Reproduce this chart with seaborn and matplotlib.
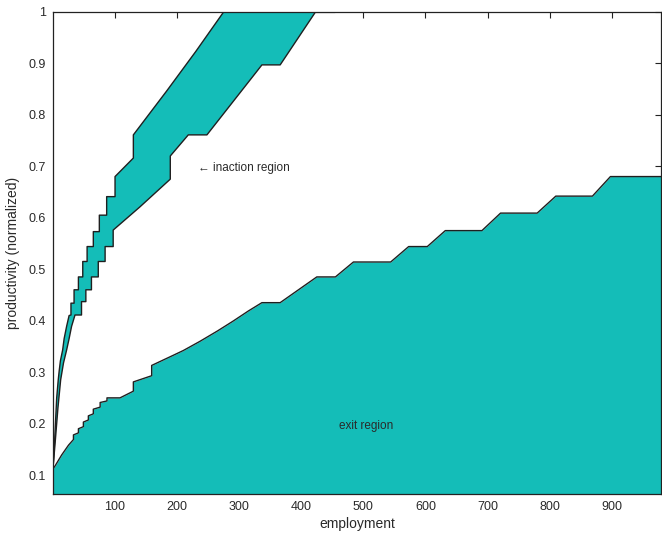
import numpy as np
import pandas as pd
import matplotlib
matplotlib.use("Agg")
import matplotlib.pyplot as plt
import seaborn as sns

# ---- data ----
exit_emp = [0, 3, 14, 25, 33, 33, 41, 41, 49, 49, 57, 57, 65, 65, 76, 76, 87, 87,
            108, 129.5, 129.5, 159, 159, 189, 210, 237, 265, 290, 315, 336.6, 366,
            425, 455, 484, 544, 573, 603, 632, 691, 721, 780, 810, 869, 898, 980]
exit_prod = [0.112, 0.117, 0.139, 0.158, 0.169, 0.178, 0.182, 0.190, 0.194, 0.203,
             0.207, 0.215, 0.219, 0.228, 0.232, 0.241, 0.244, 0.250, 0.250, 0.263,
             0.281, 0.293, 0.313, 0.330, 0.342, 0.360, 0.380, 0.399, 0.419, 0.435,
             0.435, 0.485, 0.485, 0.514, 0.514, 0.544, 0.544, 0.575, 0.575, 0.609,
             0.609, 0.642, 0.642, 0.680, 0.680]

band_left_emp = [0, 2, 4, 6, 8.5, 10, 12, 15.6, 18, 22, 26, 29, 29, 34, 34, 41, 41,
                 48, 48, 55, 55, 65, 65, 74.7, 74.7, 86.5, 86.5, 100, 100, 129.5,
                 129.5, 183, 230, 275]
band_left_prod = [0.112, 0.15, 0.2, 0.25, 0.285, 0.302, 0.322, 0.343, 0.365, 0.389,
                  0.41, 0.411, 0.434, 0.434, 0.46, 0.46, 0.485, 0.485, 0.515, 0.515,
                  0.544, 0.544, 0.573, 0.573, 0.605, 0.605, 0.641, 0.641, 0.68, 0.716,
                  0.761, 0.846, 0.923, 1.0]

band_right_emp = [0, 4, 8, 12.4, 17, 22, 26, 30, 35.5, 46, 46, 53, 53, 62, 62, 73,
                  73, 84, 84, 97, 97, 140, 189, 189, 218, 248, 336.6, 366, 423]
band_right_prod = [0.112, 0.17, 0.23, 0.285, 0.318, 0.343, 0.365, 0.389, 0.411,
                   0.411, 0.437, 0.437, 0.46, 0.46, 0.485, 0.485, 0.515, 0.515, 0.544,
                   0.544, 0.576, 0.621, 0.675, 0.72, 0.761, 0.761, 0.897, 0.897, 1.0]

top_edge_emp = [423, 455]
top_edge_prod = [1.0, 1.0]

x_ticks = [100, 200, 300, 400, 500, 600, 700, 800, 900]
y_ticks = [0.1, 0.2, 0.3, 0.4, 0.5, 0.6, 0.7, 0.8, 0.9, 1.0]
y_tick_labels = ["0.1", "0.2", "0.3", "0.4", "0.5", "0.6", "0.7", "0.8", "0.9", "1"]

# ---- styling ----
sns.set_style("white")
plt.rcParams["font.family"] = ["Liberation Sans", "DejaVu Sans"]
plt.rcParams["xtick.direction"] = "in"
plt.rcParams["ytick.direction"] = "in"

teal = "#14bdb8"
text_col = "#2a2a2a"
line_col = "#1f1f1f"

fig = plt.figure(figsize=(6.62, 5.40), dpi=100)
ax = fig.add_axes([0.080, 0.085, 0.919, 0.893])

xmin, xmax = 0, 980
ymin, ymax = 0.063, 1.0

# exit region
ax.fill_between(exit_emp, ymin, exit_prod, color=teal, linewidth=0, zorder=1)

# inaction band polygon
poly_x = np.concatenate([band_left_emp, band_right_emp[::-1]])
poly_y = np.concatenate([band_left_prod, band_right_prod[::-1]])
ax.fill(poly_x, poly_y, color=teal, linewidth=0, zorder=1)

# boundary lines
for xs, ys in [(exit_emp, exit_prod), (band_left_emp, band_left_prod),
               (band_right_emp, band_right_prod)]:
    df = pd.DataFrame({"x": xs, "y": ys})
    sns.lineplot(data=df, x="x", y="y", sort=False, estimator=None,
                 color=line_col, linewidth=1.0, ax=ax, zorder=3)
sns.lineplot(x=top_edge_emp, y=top_edge_prod, sort=False, estimator=None,
             color="#777777", linewidth=1.6, ax=ax, zorder=3)

ax.set_xlim(xmin, xmax)
ax.set_ylim(ymin, ymax)
ax.set_xticks(x_ticks)
ax.set_yticks(y_ticks)
ax.set_yticklabels(y_tick_labels)
ax.tick_params(axis="both", which="both", direction="in", length=4, width=0.8,
               top=True, right=True, labelsize=9, colors="#222222",
               labelcolor=text_col, pad=5)
for s in ax.spines.values():
    s.set_visible(True)
    s.set_color("#222222")
    s.set_linewidth(0.9)
    s.set_zorder(4)

ax.set_xlabel("employment", fontsize=10, color=text_col, labelpad=3)
ax.set_ylabel("productivity (normalized)", fontsize=10, color=text_col, labelpad=6)

ax.text(234, 0.697, "\u2190 inaction region", fontsize=8.5, color=text_col,
        ha="left", va="center")
ax.text(505, 0.195, "exit region", fontsize=8.5, color=text_col,
        ha="center", va="center", zorder=5)

fig.savefig("out.png", dpi=100)
